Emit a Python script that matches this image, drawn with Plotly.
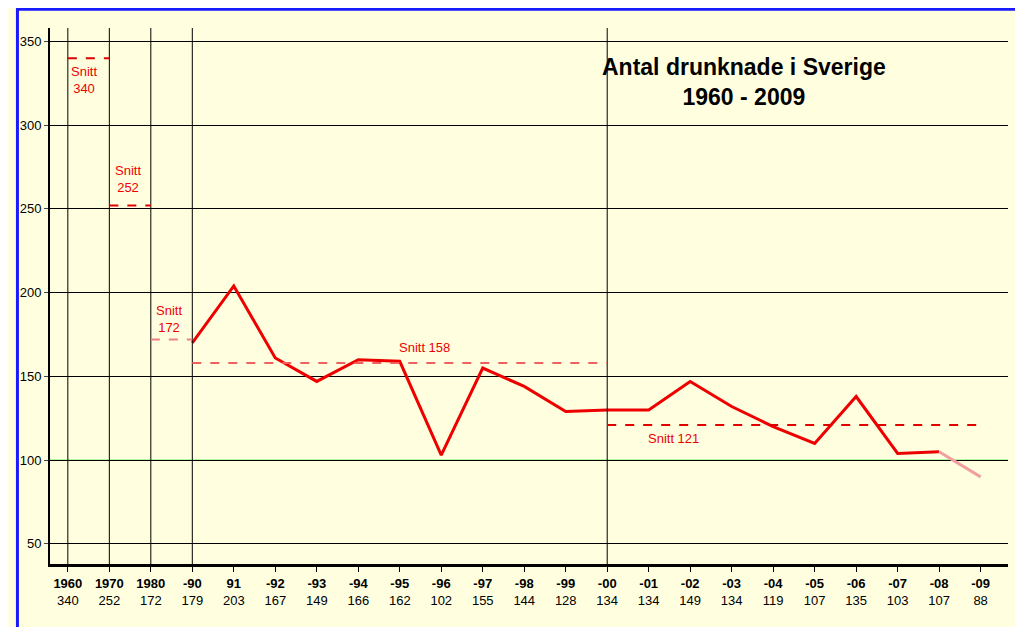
import plotly.graph_objects as go

years = ["1960","1970","1980","-90","91","-92","-93","-94","-95","-96","-97","-98","-99","-00","-01","-02","-03","-04","-05","-06","-07","-08","-09"]
label_values = [340,252,172,179,203,167,149,166,162,102,155,144,128,134,134,149,134,119,107,135,103,107,88]
# plotted line values (as drawn in the picture), from -90 onward
line_values = [170,204,161,147,160,159,103,155,144,129,130,130,147,132,120,110,138,104,105]
line_x = list(range(3, 22))
last_values = [105, 90]
last_x = [21, 22]

snitt_values = [340, 252, 172, 158, 121]
snitt_start = [0, 1, 2, 3, 13]
snitt_end = [1, 2, 3, 13, 22]
snitt_colors = ["#e00000", "#e00000", "#f08080", "#f06060", "#e00000"]
vlines = [0, 1, 2, 3, 13]

fig = go.Figure()
fig.add_trace(go.Scatter(x=line_x, y=line_values, mode="lines", line=dict(color="#ee0000", width=3), showlegend=False))
fig.add_trace(go.Scatter(x=last_x, y=last_values, mode="lines", line=dict(color="#f0a0a0", width=3), showlegend=False))

shapes = []
for v in vlines:
    shapes.append(dict(type="line", xref="x", yref="paper", x0=v, x1=v, y0=0, y1=1, line=dict(color="black", width=1)))
shapes.append(dict(type="line", xref="paper", yref="y", x0=0, x1=1, y0=100, y1=100, line=dict(color="#33dd33", width=1), layer="below"))
for s, e, val, c in zip(snitt_start, snitt_end, snitt_values, snitt_colors):
    shapes.append(dict(type="line", xref="x", yref="y", x0=s, x1=e, y0=val, y1=val, line=dict(color=c, width=2, dash="dash")))
shapes.append(dict(type="rect", xref="paper", yref="paper", x0=-0.034, x1=1.02, y0=-0.125, y1=1.035, line=dict(color="#1a1aff", width=3)))

ann = []
red = "#ee0000"
for x, y, t in [(0.4, 327, "Snitt<br>340"), (1.45, 268, "Snitt<br>252"), (2.45, 184, "Snitt<br>172")]:
    ann.append(dict(x=x, y=y, text=t, showarrow=False, font=dict(color=red, size=13, family="Arial")))
ann.append(dict(x=8.6, y=167, text="Snitt 158", showarrow=False, font=dict(color=red, size=13, family="Arial")))
ann.append(dict(x=14.6, y=113, text="Snitt 121", showarrow=False, font=dict(color=red, size=13, family="Arial")))
ann.append(dict(x=16.3, y=326, text="<b>Antal drunknade i Sverige<br>1960 - 2009</b>", showarrow=False,
                font=dict(color="black", size=23, family="Arial")))

fig.update_layout(
    width=1023, height=627,
    margin=dict(l=36, r=23, t=20, b=71),
    paper_bgcolor="#ffffe0", plot_bgcolor="#ffffe0",
    shapes=shapes, annotations=ann,
    font=dict(family="Arial", size=12, color="black"),
    xaxis=dict(range=[-0.43, 22.66], tickmode="array", tickvals=list(range(len(years))),
               ticktext=[f"<b>{y}</b><br>{v}" for y, v in zip(years, label_values)],
               tickfont=dict(size=13),
               showgrid=False, zeroline=False, showline=True, linecolor="black", linewidth=3,
               ticks="outside", ticklen=5, tickcolor="black"),
    yaxis=dict(range=[38, 358], tickvals=[50,100,150,200,250,300,350], showgrid=True, gridcolor="black",
               gridwidth=1, zeroline=False, showline=True, linecolor="black", linewidth=2,
               ticks="outside", ticklen=4, tickfont=dict(size=13)),
)
fig.write_html("out.html")
